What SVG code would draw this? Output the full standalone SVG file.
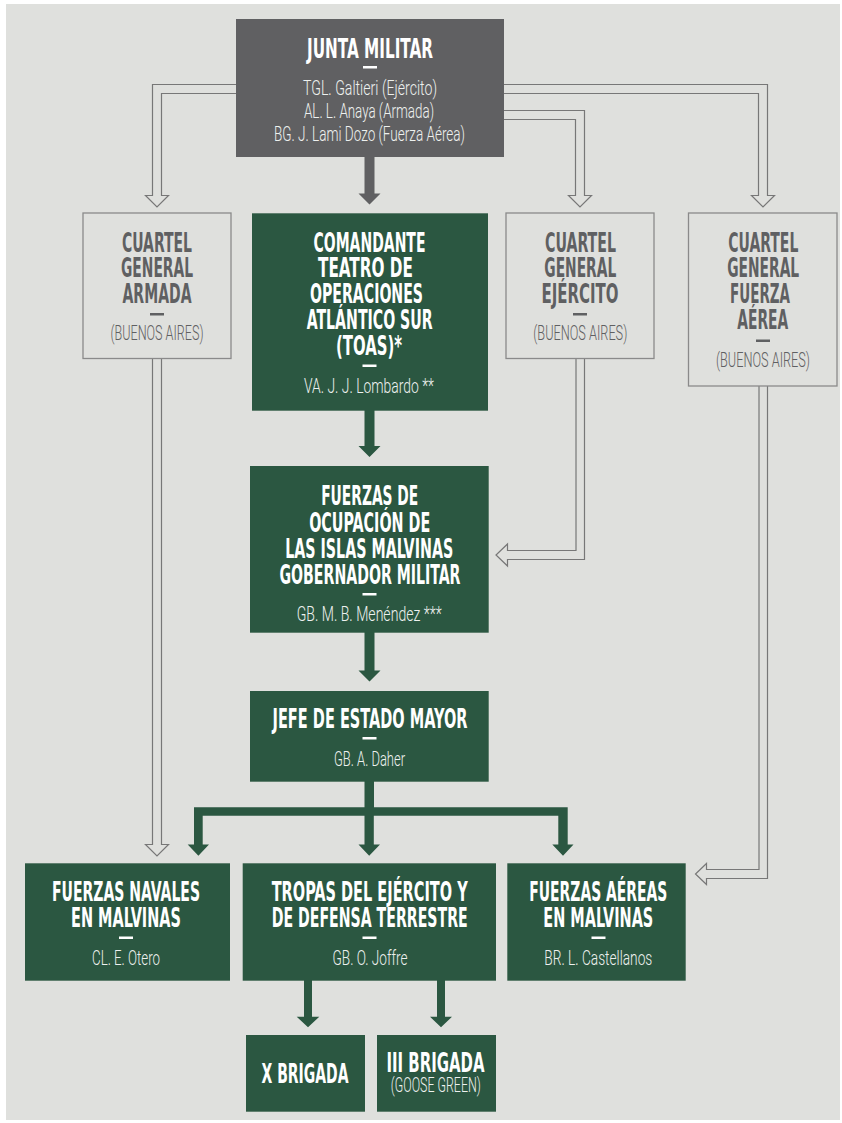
<svg xmlns="http://www.w3.org/2000/svg" width="842" height="1123" viewBox="0 0 842 1123">
<style>
.t{font-family:"DejaVu Sans Condensed","DejaVu Sans",sans-serif;font-weight:bold;font-stretch:condensed;font-size:27px;text-anchor:middle}
.l{font-family:Roboto,"Liberation Sans",sans-serif;font-weight:300;font-size:21px;text-anchor:middle}
.w{fill:#ffffff}
.lw{fill:#eef1ef}
.g{fill:#5f6062}
.green{fill:#2b5741}
.junta{fill:#606062}
.hq{fill:#dfe0dd;stroke:#8a8a8a;stroke-width:1.3}
.hollow{fill:#dfe0dd;stroke:#777;stroke-width:1.2}
.solidg{fill:#2b5741}
.solidk{fill:#606062}
</style>
<rect x="0" y="0" width="842" height="1123" fill="#ffffff"/>
<rect x="6" y="4" width="834" height="1116" fill="#dfe0dd"/>

<g id="connectors">
  <path class="hollow" d="M236,84.5 H152.5 V195.5 H145.5 L157,207 L168.5,195.5 H161.5 V93.5 H236"/>
  <path class="hollow" d="M504,110.5 H584.5 V195.5 H591.5 L580,207 L568.5,195.5 H575.5 V119.5 H504"/>
  <path class="hollow" d="M504,84.5 H767.5 V195.5 H774.5 L763,207 L751.5,195.5 H758.5 V93.5 H504"/>
  <path class="hollow" d="M152.5,358.5 V844.5 H145.5 L157,856 L168.5,844.5 H161.5 V358.5"/>
  <path class="hollow" d="M576,358.7 V550.5 H507.5 V544 L496,555 L507.5,566 V559.5 H584.5 V358.7"/>
  <path class="hollow" d="M759,386 V869.5 H706.5 V863.5 L695.5,874 L706.5,884.5 V878.5 H767.5 V386"/>
  <path class="solidk" d="M364.5,157 H374.5 V193.5 H380.5 L369.5,204.5 L358.5,193.5 H364.5 Z"/>
  <path class="solidg" d="M364.5,410 H374.5 V446 H380.5 L369.5,457 L358.5,446 H364.5 Z"/>
  <path class="solidg" d="M364.5,632 H374.5 V670.5 H380.5 L369.5,681.5 L358.5,670.5 H364.5 Z"/>
  <path class="solidg" d="M364.5,781 H374 V807.3 H567.7 V844.5 H573.5 L563,855.7 L552.3,844.5 H558.3 V815.7 H373.8 V844.5 H380 L369.2,855.7 L358.5,844.5 H364.5 V815.7 H202.7 V844.5 H209 L198.4,855.7 L187.7,844.5 H194 V807.3 H364.5 Z"/>
  <path class="solidg" d="M304,980 H312 V1016.7 H319.3 L308,1027.3 L296.7,1016.7 H304 Z"/>
  <path class="solidg" d="M437,980 H445 V1016.7 H452 L441,1027.3 L430,1016.7 H437 Z"/>
</g>

<g id="junta">
  <rect class="junta" x="236" y="19" width="268" height="138"/>
  <text class="t w" x="370" y="58" font-size="28" textLength="126" lengthAdjust="spacingAndGlyphs">JUNTA MILITAR</text>
  <rect class="w" x="363" y="66" width="14" height="2.5"/>
  <text class="l lw" x="370" y="95" textLength="134" lengthAdjust="spacingAndGlyphs">TGL. Galtieri (Ejército)</text>
  <text class="l lw" x="369" y="118" textLength="130" lengthAdjust="spacingAndGlyphs">AL. L. Anaya (Armada)</text>
  <text class="l lw" x="369.5" y="141" textLength="191" lengthAdjust="spacingAndGlyphs">BG. J. Lami Dozo (Fuerza Aérea)</text>
</g>

<g id="cg-armada">
  <rect class="hq" x="83" y="213" width="148" height="145.5"/>
  <text class="t g" x="157" y="251.7" textLength="70" lengthAdjust="spacingAndGlyphs">CUARTEL</text>
  <text class="t g" x="157" y="277.3" textLength="72" lengthAdjust="spacingAndGlyphs">GENERAL</text>
  <text class="t g" x="157" y="303.3" textLength="69" lengthAdjust="spacingAndGlyphs">ARMADA</text>
  <rect class="g" x="150" y="313" width="14" height="2.5"/>
  <text class="l g" x="157" y="340" textLength="93" lengthAdjust="spacingAndGlyphs">(BUENOS AIRES)</text>
</g>

<g id="comandante">
  <rect class="green" x="252" y="213.3" width="236" height="197.4"/>
  <text class="t w" x="369.5" y="251.7" textLength="112" lengthAdjust="spacingAndGlyphs">COMANDANTE</text>
  <text class="t w" x="365.5" y="277.3" textLength="95" lengthAdjust="spacingAndGlyphs">TEATRO DE</text>
  <text class="t w" x="366.5" y="303.3" textLength="113" lengthAdjust="spacingAndGlyphs">OPERACIONES</text>
  <text class="t w" x="369.7" y="329.3" textLength="126" lengthAdjust="spacingAndGlyphs">ATLÁNTICO SUR</text>
  <text class="t w" x="369" y="355" textLength="66" lengthAdjust="spacingAndGlyphs">(TOAS)*</text>
  <rect class="w" x="362.5" y="364.5" width="14" height="2.5"/>
  <text class="l lw" x="369" y="392.7" textLength="130" lengthAdjust="spacingAndGlyphs">VA. J. J. Lombardo **</text>
</g>

<g id="cg-ejercito">
  <rect class="hq" x="506" y="213" width="148" height="145.5"/>
  <text class="t g" x="580.5" y="251.7" textLength="71" lengthAdjust="spacingAndGlyphs">CUARTEL</text>
  <text class="t g" x="580.3" y="277.3" textLength="72" lengthAdjust="spacingAndGlyphs">GENERAL</text>
  <text class="t g" x="580" y="303.3" textLength="77" lengthAdjust="spacingAndGlyphs">EJÉRCITO</text>
  <rect class="g" x="573" y="313" width="14" height="2.5"/>
  <text class="l g" x="580.3" y="340" textLength="94" lengthAdjust="spacingAndGlyphs">(BUENOS AIRES)</text>
</g>

<g id="cg-fuerza-aerea">
  <rect class="hq" x="688.5" y="213" width="148.5" height="173"/>
  <text class="t g" x="763.3" y="251.7" textLength="70" lengthAdjust="spacingAndGlyphs">CUARTEL</text>
  <text class="t g" x="763.2" y="277.3" textLength="72" lengthAdjust="spacingAndGlyphs">GENERAL</text>
  <text class="t g" x="760" y="303.3" textLength="60" lengthAdjust="spacingAndGlyphs">FUERZA</text>
  <text class="t g" x="762.8" y="329.3" textLength="51" lengthAdjust="spacingAndGlyphs">AÉREA</text>
  <rect class="g" x="756" y="339.5" width="14" height="2.5"/>
  <text class="l g" x="763" y="366.7" textLength="94" lengthAdjust="spacingAndGlyphs">(BUENOS AIRES)</text>
</g>

<g id="fuerzas-ocupacion">
  <rect class="green" x="250" y="466" width="238.7" height="166.7"/>
  <text class="t w" x="369.7" y="505" textLength="97" lengthAdjust="spacingAndGlyphs">FUERZAS DE</text>
  <text class="t w" x="369.7" y="531.7" textLength="121" lengthAdjust="spacingAndGlyphs">OCUPACIÓN DE</text>
  <text class="t w" x="369.2" y="557.7" textLength="168" lengthAdjust="spacingAndGlyphs">LAS ISLAS MALVINAS</text>
  <text class="t w" x="370" y="584" textLength="181" lengthAdjust="spacingAndGlyphs">GOBERNADOR MILITAR</text>
  <rect class="w" x="362.5" y="593" width="14" height="2.5"/>
  <text class="l lw" x="369.2" y="621" textLength="145" lengthAdjust="spacingAndGlyphs">GB. M. B. Menéndez ***</text>
</g>

<g id="jefe-estado-mayor">
  <rect class="green" x="250" y="691" width="238.7" height="90.7"/>
  <text class="t w" x="370" y="728.3" textLength="195" lengthAdjust="spacingAndGlyphs">JEFE DE ESTADO MAYOR</text>
  <rect class="w" x="362.5" y="737" width="14" height="2.5"/>
  <text class="l lw" x="369.5" y="766" textLength="71" lengthAdjust="spacingAndGlyphs">GB. A. Daher</text>
</g>

<g id="fuerzas-navales">
  <rect class="green" x="25" y="863.3" width="205" height="117.4"/>
  <text class="t w" x="126" y="900.7" textLength="148" lengthAdjust="spacingAndGlyphs">FUERZAS NAVALES</text>
  <text class="t w" x="126" y="927.3" textLength="110" lengthAdjust="spacingAndGlyphs">EN MALVINAS</text>
  <rect class="w" x="119" y="936.5" width="14" height="2.5"/>
  <text class="l lw" x="126" y="965" textLength="68" lengthAdjust="spacingAndGlyphs">CL. E. Otero</text>
</g>

<g id="tropas-ejercito">
  <rect class="green" x="242.7" y="863.3" width="253.3" height="117.4"/>
  <text class="t w" x="369.7" y="900.7" textLength="196" lengthAdjust="spacingAndGlyphs">TROPAS DEL EJÉRCITO Y</text>
  <text class="t w" x="369.7" y="927.3" textLength="196" lengthAdjust="spacingAndGlyphs">DE DEFENSA TERRESTRE</text>
  <rect class="w" x="362.5" y="936.5" width="14" height="2.5"/>
  <text class="l lw" x="370" y="965" textLength="75" lengthAdjust="spacingAndGlyphs">GB. O. Joffre</text>
</g>

<g id="fuerzas-aereas">
  <rect class="green" x="507.3" y="863.3" width="178.4" height="117.4"/>
  <text class="t w" x="598.3" y="900.7" textLength="138" lengthAdjust="spacingAndGlyphs">FUERZAS AÉREAS</text>
  <text class="t w" x="598.3" y="927.3" textLength="110" lengthAdjust="spacingAndGlyphs">EN MALVINAS</text>
  <rect class="w" x="591.5" y="936.5" width="14" height="2.5"/>
  <text class="l lw" x="598.3" y="965" textLength="108" lengthAdjust="spacingAndGlyphs">BR. L. Castellanos</text>
</g>

<g id="x-brigada">
  <rect class="green" x="246" y="1035" width="119" height="76.7"/>
  <text class="t w" x="305" y="1082.7" textLength="87" lengthAdjust="spacingAndGlyphs">X BRIGADA</text>
</g>

<g id="iii-brigada">
  <rect class="green" x="377" y="1035" width="119" height="76.7"/>
  <text class="t w" x="435.5" y="1071.7" textLength="98" lengthAdjust="spacingAndGlyphs">III BRIGADA</text>
  <text class="l lw" x="435.8" y="1092.3" font-size="17" textLength="90" lengthAdjust="spacingAndGlyphs">(GOOSE GREEN)</text>
</g>
</svg>
